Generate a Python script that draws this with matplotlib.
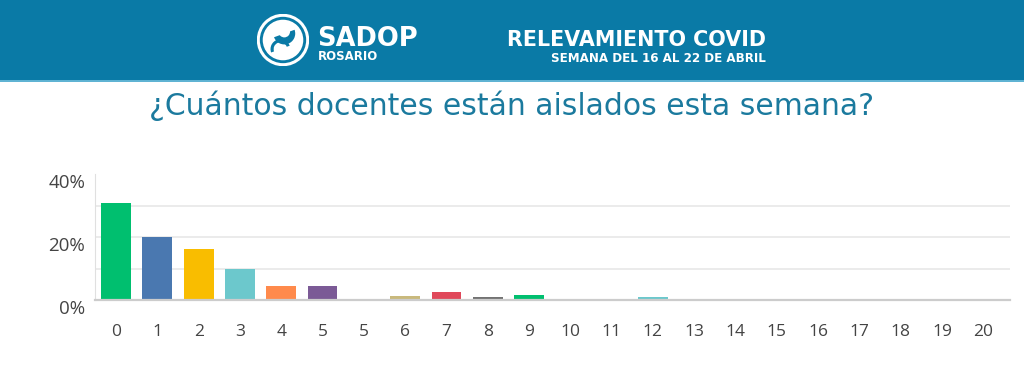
import matplotlib
matplotlib.use("Agg")
import matplotlib.pyplot as plt
from matplotlib.patches import Rectangle, Circle, Wedge

categories = ["0", "1", "2", "3", "4", "5", "5", "6", "7", "8", "9", "10",
              "11", "12", "13", "14", "15", "16", "17", "18", "19", "20"]
values = [30.7, 20.0, 16.2, 9.8, 4.4, 4.4, 0.2, 1.4, 2.5, 1.0, 1.6, 0.0,
          0.0, 1.0, 0.0, 0.0, 0.0, 0.0, 0.0, 0.0, 0.3, 0.2]
colors = ["#00bf6f", "#4a78b0", "#f9bd00", "#6cc8cc", "#ff8a4c", "#7b5a96",
          "#e8c36a", "#c9b97c", "#e0485a", "#737373", "#00bf6f", "#6cc8cc",
          "#6cc8cc", "#6cc8cc", "#6cc8cc", "#6cc8cc", "#6cc8cc", "#6cc8cc",
          "#6cc8cc", "#6cc8cc", "#cfe6e6", "#dcdcdc"]
y_ticks = [0, 20, 40]
y_ticklabels = ["0%", "20%", "40%"]

BANNER = "#0a7aa6"
fig = plt.figure(figsize=(10.24, 3.81), dpi=100)
fig.patch.set_facecolor("white")

# banner
fig.patches.append(Rectangle((0, 1 - 80/381), 1, 80/381, transform=fig.transFigure,
                             facecolor=BANNER, edgecolor="none", zorder=-2))
fig.patches.append(Rectangle((0, 1 - 82/381), 1, 2/381, transform=fig.transFigure,
                             facecolor="#5fb3d3", edgecolor="none", zorder=-2))

# logo
lax = fig.add_axes([257/1024, 1 - 66/381, 52/1024, 52/381])
lax.set_xlim(-1, 1); lax.set_ylim(-1, 1); lax.set_aspect("equal"); lax.axis("off")
lax.add_patch(Circle((0, 0), 0.95, facecolor="none", edgecolor="white", lw=2.2))
lax.add_patch(Circle((0, 0), 0.78, facecolor="white", edgecolor="none"))
lax.add_patch(Wedge((0.05, 0.25), 0.42, 200, 20, facecolor=BANNER, edgecolor="none"))
lax.add_patch(Circle((0.05, 0.32), 0.22, facecolor="white", edgecolor="none"))
lax.add_patch(Wedge((-0.1, -0.35), 0.38, 20, 200, width=0.12, facecolor=BANNER, edgecolor="none"))

fig.text(317/1024, 1 - 39/381, "SADOP", color="white", fontsize=18.5, fontweight="bold",
         family="DejaVu Sans", va="center", ha="left")
fig.text(318/1024, 1 - 57/381, "ROSARIO", color="white", fontsize=8.5, fontweight="bold",
         family="DejaVu Sans", va="center", ha="left")
fig.text(766/1024, 1 - 40/381, "RELEVAMIENTO COVID", color="white", fontsize=14.9,
         fontweight="bold", family="DejaVu Sans", va="center", ha="right")
fig.text(766/1024, 1 - 59/381, "SEMANA DEL 16 AL 22 DE ABRIL", color="white", fontsize=8.6,
         fontweight="bold", family="DejaVu Sans", va="center", ha="right")

# title
fig.text(512/1024, 1 - 106/381, "¿Cuántos docentes están aislados esta semana?",
         color="#1b7a9e", fontsize=21.5, family="DejaVu Sans", va="center", ha="center")

# chart
ax = fig.add_axes([95/1024, 1 - 300/381, (1010 - 95)/1024, 126/381])
x = list(range(len(categories)))
ax.bar(x, values, width=0.72, color=colors, zorder=3)
ax.set_xlim(-0.51, 21.65)
ax.set_ylim(0, 40)
for g in [10, 20, 30]:
    ax.axhline(g, color="#e8e8e8", lw=1.2, zorder=1)
ax.set_xticks(x)
ax.set_xticklabels(categories, family="Open Sans", fontsize=12.5, color="#444444")
ax.set_yticks(y_ticks)
ax.set_yticklabels(y_ticklabels, family="Open Sans", fontsize=13.5, color="#444444")
for lbl in ax.get_yticklabels():
    lbl.set_va("top")
ax.tick_params(axis="both", length=0)
ax.tick_params(axis="x", pad=17)
ax.tick_params(axis="y", pad=7)
for s in ["top", "right"]:
    ax.spines[s].set_visible(False)
ax.spines["left"].set_color("#e0e0e0")
ax.spines["bottom"].set_color("#cccccc")
ax.spines["bottom"].set_linewidth(1.6)
ax.spines["bottom"].set_zorder(4)

fig.savefig("out.png", dpi=100, facecolor="white")
